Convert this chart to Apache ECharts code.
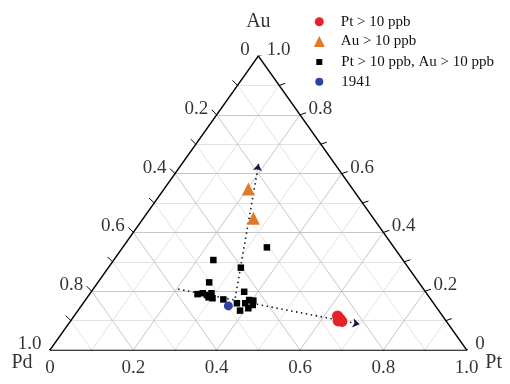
<!DOCTYPE html>
<html><head><meta charset="utf-8">
<script src="https://cdn.jsdelivr.net/npm/echarts@6/dist/echarts.min.js"></script>
<style>html,body{margin:0;padding:0;background:#fff}#c{width:510px;height:384px}</style>
</head><body><div id="c"></div>
<script>
// Ternary compositions, each point given as [Pt, Au] fraction (Pd = 1 - Pt - Au)
const ptHigh = [[0.632,0.116],[0.642,0.099],[0.652,0.097],[0.643,0.106]];
const auHigh = [[0.202,0.548],[0.264,0.448]];
const ptAuHigh = [[0.346,0.349],[0.239,0.306],[0.318,0.280],[0.267,0.230],[0.367,0.198],
  [0.259,0.190],[0.270,0.193],[0.283,0.187],[0.291,0.193],[0.291,0.179],[0.302,0.176],
  [0.330,0.172],[0.369,0.159],[0.389,0.134],[0.389,0.159],[0.393,0.170],[0.404,0.168],
  [0.410,0.153],[0.405,0.142]];
const sample1941 = [[0.353,0.150]];
const trendPt = [[0.204,0.207],[0.699,0.088]];
const trendAu = [[0.356,0.177],[0.184,0.633]];
const majorValues = [0,0.2,0.4,0.6,0.8,1.0];
const majorLabels = ['0','0.2','0.4','0.6','0.8','1.0'];
const minorValues = [0.1,0.3,0.5,0.7,0.9];
const gridValues = [0.1,0.2,0.3,0.4,0.5,0.6,0.7,0.8,0.9];
const legendNames = ['Pt > 10 ppb','Au > 10 ppb','Pt > 10 ppb, Au > 10 ppb','1941'];

const FONT = 'Liberation Serif';
const GW = 416.7, GH = 294; // plot box in px, for tick/label offsets
function tern(p){ return [p[0] + p[1]/2, p[1]]; }
function off(pt, dx, dy){ return [pt[0] + dx/GW, pt[1] + dy/GH]; }
function seg(a, b){ return {coords:[tern(a), tern(b)]}; }

// grid lines
const gridMajor = [], gridMinor = [];
gridValues.forEach(t => {
  const arr = (Math.abs(t*5 - Math.round(t*5)) < 1e-6) ? gridMajor : gridMinor;
  arr.push(seg([0,t],[1-t,t]));   // constant Au
  arr.push(seg([t,0],[t,1-t]));   // constant Pt
  arr.push(seg([1-t,0],[0,1-t])); // constant Pd
});
const border = [seg([0,0],[1,0]), seg([1,0],[0,1]), seg([0,1],[0,0])];

// ticks
const tickSegs = [];
majorValues.concat(minorValues).forEach(v => {
  const b = tern([v,0]); tickSegs.push({coords:[b, off(b,0,-4)]});
  const l = tern([0,1-v]); tickSegs.push({coords:[l, off(l,-5,5)]});
  const r = tern([1-v,v]); tickSegs.push({coords:[r, off(r,6,2)]});
});

function labelSeries(points, labels, pos, offset, dist){
  return {
    type:'scatter', silent:true, symbolSize:1, z:5,
    itemStyle:{color:'transparent'},
    data: points.map((p,i)=>({value:p, label:{formatter:labels[i]}})),
    label:{show:true, position:pos, distance:dist, offset:offset, color:'#000',
      fontFamily:FONT, fontSize:19}
  };
}

const leftPts = majorValues.map(v => tern([0,1-v]));   // Pd scale
const rightPts = majorValues.map(v => tern([1-v,v]));  // Au scale
const bottomPts = majorValues.map(v => tern([v,0]));   // Pt scale

const vertexSeries = {
  type:'scatter', silent:true, symbolSize:1, z:5, itemStyle:{color:'transparent'},
  data:[
    {value:tern([0,1]), label:{formatter:'Au', offset:[0,-34]}},
    {value:tern([0,0]), label:{formatter:'Pd', offset:[-28,13]}},
    {value:tern([1,0]), label:{formatter:'Pt', offset:[27,13]}}
  ],
  label:{show:true, position:'inside', color:'#000', fontFamily:FONT, fontSize:20}
};

function lineSeries(data, color, width, extra){
  return Object.assign({type:'lines', coordinateSystem:'cartesian2d', silent:true,
    polyline:false, symbol:'none', data:data,
    lineStyle:{color:color, width:width, opacity:1}}, extra||{});
}

function legendFor(name, cx, cy, size, pad){
  return {data:[name], left:cx - size/2, top:cy - 8, itemWidth:size, itemHeight:size,
    selectedMode:false, textStyle:{fontFamily:FONT, fontSize:15, color:'#111', lineHeight:16,
    padding:[0,0,0,pad]}};
}

const option = {
  animation:false,
  backgroundColor:'#fff',
  grid:{left:50, top:56, width:GW, height:GH},
  xAxis:{type:'value', min:0, max:1, show:false},
  yAxis:{type:'value', min:0, max:1, show:false},
  legend:[
    legendFor(legendNames[0], 314.3, 16.7, 9, 12),
    legendFor(legendNames[1], 314.3, 36.5, 11, 11),
    legendFor(legendNames[2], 314.3, 57, 6, 14),
    legendFor(legendNames[3], 314.3, 76.7, 8, 13)
  ],
  series:[
    lineSeries(gridMinor, '#e2e2e2', 1, {z:1}),
    lineSeries(gridMajor, '#c6c6c6', 1, {z:1}),
    lineSeries(border, '#000', 1.3, {z:3}),
    lineSeries(tickSegs, '#000', 1, {z:3}),
    labelSeries(leftPts, majorLabels, 'left', [0,-6], 8),
    labelSeries(rightPts, majorLabels, 'right', [0,-6], 8),
    labelSeries(bottomPts, majorLabels, 'bottom', [0,1], 7),
    vertexSeries,
    lineSeries([seg(trendPt[0],trendPt[1]), seg(trendAu[0],trendAu[1])], '#141a3a', 1.6,
      {z:4, symbol:['none','arrow'], symbolSize:7,
       lineStyle:{color:'#141a3a', width:1.6, opacity:1, type:[1.5,3.5]}}),
    {name:legendNames[2], type:'scatter', symbol:'rect', symbolSize:6.5, z:6,
     itemStyle:{color:'#000', opacity:1}, data:ptAuHigh.map(tern)},
    {name:legendNames[0], type:'scatter', symbol:'circle', symbolSize:11, z:6,
     itemStyle:{color:'#e62228', opacity:1}, data:ptHigh.map(tern)},
    {name:legendNames[1], type:'scatter', symbol:'triangle', symbolSize:13, z:6,
     itemStyle:{color:'#df7a28', opacity:1}, data:auHigh.map(tern)},
    {name:legendNames[3], type:'scatter', symbol:'circle', symbolSize:9, z:6,
     itemStyle:{color:'#2c44a0', opacity:1}, data:sample1941.map(tern)}
  ]
};
const chart = echarts.init(document.getElementById('c'), null, {renderer:'canvas'});
chart.setOption(option);
</script></body></html>
